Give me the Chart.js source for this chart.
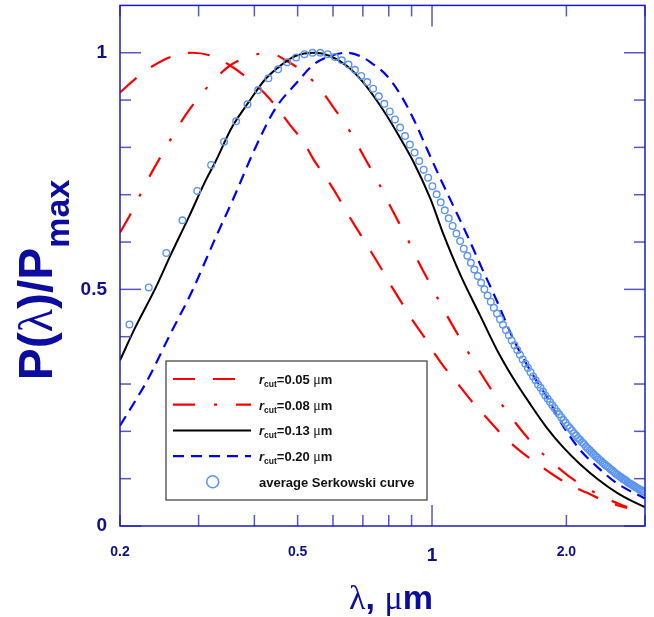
<!DOCTYPE html>
<html>
<head>
<meta charset="utf-8" />
<title>P(λ)/Pmax</title>
<script src="https://cdn.jsdelivr.net/npm/chart.js@4.4.1/dist/chart.umd.min.js"></script>
<style>
    body {
        margin: 0;
        background: #ffffff;
    }
    #wrap {
        width: 654px;
        height: 617px;
    }
</style>
</head>
<body>
<div id="wrap"><canvas id="chart" width="654" height="617"></canvas></div>
<script>
    // r_cut = 0.05 um (red long dash)
    const r005Lambda = [0.200, 0.218, 0.238, 0.263, 0.290, 0.324, 0.353, 0.388, 0.419, 0.453, 0.481, 0.515, 0.543, 0.576, 0.612, 0.645, 0.684, 0.721, 0.763, 0.806, 0.852, 0.902, 0.961, 1.017, 1.084, 1.157, 1.239, 1.339, 1.435, 1.564, 1.690, 1.842, 2.024, 2.226, 2.468, 2.736];
    const r005P = [0.916, 0.947, 0.973, 0.993, 1.000, 0.992, 0.973, 0.945, 0.917, 0.880, 0.847, 0.812, 0.774, 0.739, 0.700, 0.662, 0.623, 0.588, 0.550, 0.511, 0.474, 0.436, 0.399, 0.362, 0.326, 0.294, 0.259, 0.224, 0.193, 0.161, 0.137, 0.112, 0.088, 0.070, 0.051, 0.038];

    // r_cut = 0.08 um (red dash-dot)
    const r008Lambda = [0.200, 0.212, 0.222, 0.234, 0.248, 0.262, 0.279, 0.297, 0.320, 0.353, 0.388, 0.429, 0.474, 0.520, 0.564, 0.604, 0.645, 0.681, 0.721, 0.759, 0.799, 0.843, 0.886, 0.933, 0.982, 1.034, 1.093, 1.157, 1.223, 1.294, 1.381, 1.472, 1.577, 1.704, 1.842, 2.013, 2.226, 2.446, 2.736];
    const r008P = [0.620, 0.662, 0.700, 0.742, 0.784, 0.823, 0.865, 0.900, 0.936, 0.973, 0.991, 1.000, 0.982, 0.956, 0.921, 0.882, 0.844, 0.805, 0.763, 0.725, 0.683, 0.641, 0.602, 0.558, 0.518, 0.478, 0.436, 0.396, 0.357, 0.319, 0.278, 0.242, 0.205, 0.168, 0.138, 0.107, 0.080, 0.059, 0.040];

    // r_cut = 0.13 um (black solid)
    const r013Lambda = [0.200, 0.216, 0.240, 0.261, 0.285, 0.310, 0.327, 0.356, 0.388, 0.423, 0.461, 0.494, 0.545, 0.591, 0.645, 0.702, 0.766, 0.834, 0.909, 0.991, 1.062, 1.157, 1.283, 1.398, 1.523, 1.661, 1.810, 1.973, 2.150, 2.344, 2.598, 2.800, 3.000];
    const r013P = [0.350, 0.418, 0.502, 0.577, 0.652, 0.727, 0.769, 0.842, 0.895, 0.944, 0.975, 0.993, 1.000, 0.993, 0.972, 0.937, 0.888, 0.832, 0.769, 0.692, 0.615, 0.531, 0.444, 0.372, 0.311, 0.257, 0.207, 0.165, 0.130, 0.100, 0.070, 0.053, 0.040];

    // r_cut = 0.20 um (blue dashed)
    const r020Lambda = [0.200, 0.230, 0.260, 0.290, 0.327, 0.359, 0.401, 0.445, 0.498, 0.543, 0.591, 0.645, 0.690, 0.740, 0.793, 0.849, 0.909, 0.974, 1.044, 1.118, 1.198, 1.283, 1.398, 1.523, 1.661, 1.810, 1.973, 2.150, 2.344, 2.598, 3.000];
    const r020P = [0.212, 0.307, 0.408, 0.496, 0.608, 0.692, 0.797, 0.881, 0.937, 0.975, 0.993, 1.000, 0.993, 0.975, 0.951, 0.912, 0.860, 0.797, 0.734, 0.675, 0.615, 0.552, 0.475, 0.394, 0.328, 0.272, 0.209, 0.160, 0.125, 0.090, 0.058];

    // average Serkowski curve (open circles)
    const serkLambda = [0.210, 0.232, 0.254, 0.276, 0.298, 0.320, 0.342, 0.364, 0.386, 0.408, 0.430, 0.452, 0.474, 0.496, 0.518, 0.540, 0.562, 0.584, 0.606, 0.628,
        0.650, 0.672, 0.694, 0.716, 0.738, 0.760, 0.782, 0.804, 0.826, 0.848, 0.870, 0.892, 0.914, 0.936, 0.958, 0.980, 1.002, 1.024, 1.046, 1.068,
        1.090, 1.112, 1.134, 1.156, 1.178, 1.200, 1.222, 1.244, 1.266, 1.288, 1.310, 1.332, 1.354, 1.376, 1.398, 1.420, 1.442, 1.464, 1.486, 1.508,
        1.530, 1.552, 1.574, 1.596, 1.618, 1.640, 1.662, 1.684, 1.706, 1.728, 1.750, 1.772, 1.794, 1.816, 1.838, 1.860, 1.882, 1.904, 1.926, 1.948,
        1.970, 1.992, 2.014, 2.036, 2.058, 2.080, 2.102, 2.124, 2.146, 2.168, 2.190, 2.212, 2.234, 2.256, 2.278, 2.300, 2.322, 2.344, 2.366, 2.388,
        2.410, 2.432, 2.454, 2.476, 2.498, 2.520, 2.542, 2.564, 2.586, 2.608, 2.630, 2.652, 2.674, 2.696, 2.718, 2.740, 2.762, 2.784, 2.806, 2.828,
        2.850, 2.872, 2.894, 2.916, 2.938, 2.960, 2.982];
    const serkP = [0.426, 0.504, 0.577, 0.646, 0.708, 0.763, 0.812, 0.855, 0.891, 0.921, 0.946, 0.965, 0.980, 0.990, 0.997, 1.000, 1.000, 0.997, 0.991, 0.984,
        0.975, 0.964, 0.951, 0.938, 0.924, 0.908, 0.892, 0.876, 0.859, 0.842, 0.824, 0.806, 0.789, 0.771, 0.753, 0.736, 0.718, 0.701, 0.684, 0.667,
        0.650, 0.634, 0.618, 0.602, 0.586, 0.571, 0.556, 0.542, 0.528, 0.514, 0.500, 0.487, 0.474, 0.461, 0.449, 0.437, 0.425, 0.414, 0.403, 0.392,
        0.382, 0.372, 0.362, 0.352, 0.343, 0.334, 0.325, 0.316, 0.308, 0.299, 0.292, 0.284, 0.276, 0.269, 0.262, 0.255, 0.249, 0.242, 0.236, 0.230,
        0.224, 0.218, 0.212, 0.207, 0.202, 0.196, 0.191, 0.186, 0.182, 0.177, 0.173, 0.168, 0.164, 0.160, 0.156, 0.152, 0.148, 0.145, 0.141, 0.138,
        0.134, 0.131, 0.128, 0.125, 0.122, 0.119, 0.116, 0.113, 0.110, 0.108, 0.105, 0.103, 0.100, 0.098, 0.096, 0.093, 0.091, 0.089, 0.087, 0.085,
        0.083, 0.081, 0.079, 0.077, 0.076, 0.074, 0.072];

    // axes
    const xTickValues = [0.2, 0.3, 0.4, 0.5, 0.6, 0.7, 0.8, 0.9, 1, 2, 3];
    const xLongTicks = [1];
    const xTickLabels = ['0.2', '0.5', '1', '2.0'];
    const xTickLabelValues = [0.2, 0.5, 1, 2];
    const yTickValues = [0, 0.1, 0.2, 0.3, 0.4, 0.5, 0.6, 0.7, 0.8, 0.9, 1.0];
    const yLongTicks = [0, 0.5, 1.0];
    const yTickLabels = ['0', '0.5', '1'];
    const yTickLabelValues = [0, 0.5, 1];

    const legendCuts = ['0.05', '0.08', '0.13', '0.20'];
    const legendSerk = 'average Serkowski curve';

    const SANS = '"Liberation Sans", Arial, sans-serif';
    const SERIF = '"Liberation Serif", "Times New Roman", serif';
    const navy = '#10108c';

    function pts(xs, ys) {
        return xs.map((x, i) => ({ x: x, y: ys[i] }));
    }

    // draws a row of text pieces with different fonts, returns the width
    function drawRuns(ctx, x, y, runs, measureOnly) {
        let cx = x;
        runs.forEach(r => {
            ctx.font = r.font;
            if (!measureOnly) ctx.fillText(r.t, cx, y + (r.dy || 0));
            cx += ctx.measureText(r.t).width;
        });
        return cx - x;
    }

    function line(ctx, x1, y1, x2, y2) {
        ctx.beginPath();
        ctx.moveTo(x1, y1);
        ctx.lineTo(x2, y2);
        ctx.stroke();
    }

    const decorPlugin = {
        id: 'decor',
        afterDatasetsDraw(chart) {
            const ctx = chart.ctx;
            const a = chart.chartArea;
            const xs = chart.scales.x;
            const ys = chart.scales.y;
            ctx.save();

            // inner ticks on all four sides
            ctx.strokeStyle = '#5656c8';
            ctx.lineWidth = 1.5;
            yTickValues.forEach(v => {
                const py = ys.getPixelForValue(v);
                const len = yLongTicks.includes(v) ? 21 : 11;
                line(ctx, a.left, py, a.left + len, py);
                line(ctx, a.right, py, a.right - len, py);
            });
            xTickValues.forEach(v => {
                const px = xs.getPixelForValue(v);
                const len = xLongTicks.includes(v) ? 21 : 11;
                line(ctx, px, a.bottom, px, a.bottom - len);
                line(ctx, px, a.top, px, a.top + len);
            });

            // frame
            ctx.strokeStyle = '#1c1cc0';
            ctx.lineWidth = 1.5;
            ctx.strokeRect(a.left, a.top, a.right - a.left, a.bottom - a.top);

            // tick labels
            ctx.fillStyle = navy;
            ctx.textAlign = 'right';
            ctx.textBaseline = 'middle';
            ctx.font = 'bold 19px ' + SANS;
            yTickLabelValues.forEach((v, i) => {
                ctx.fillText(yTickLabels[i], a.left - 13, ys.getPixelForValue(v));
            });
            ctx.textAlign = 'center';
            xTickLabelValues.forEach((v, i) => {
                const big = v === 1;
                ctx.font = 'bold ' + (big ? 19 : 14) + 'px ' + SANS;
                ctx.fillText(xTickLabels[i], xs.getPixelForValue(v), a.bottom + (big ? 30 : 26));
            });

            // x title
            ctx.textAlign = 'left';
            ctx.textBaseline = 'alphabetic';
            ctx.fillStyle = '#0c0ca0';
            const xRuns = [
                { t: 'λ', font: '34px ' + SERIF },
                { t: ', ', font: 'bold 34px ' + SANS },
                { t: 'μ', font: '34px ' + SERIF },
                { t: 'm', font: 'bold 34px ' + SANS }
            ];
            const xw = drawRuns(ctx, 0, 0, xRuns, true);
            drawRuns(ctx, 391 - xw / 2, 609, xRuns);

            // y title, rotated
            const yRuns = [
                { t: 'P(', font: 'bold 48px ' + SANS },
                { t: 'λ', font: '48px ' + SERIF },
                { t: ')/P', font: 'bold 48px ' + SANS },
                { t: 'max', font: 'bold 34px ' + SANS, dy: 17 }
            ];
            const yw = drawRuns(ctx, 0, 0, yRuns, true);
            ctx.translate(52, 280);
            ctx.rotate(-Math.PI / 2);
            drawRuns(ctx, -yw / 2, 0, yRuns);
            ctx.restore();

            // legend box
            ctx.save();
            const L = { left: 166, top: 361, right: 427, bottom: 500 };
            ctx.fillStyle = '#ffffff';
            ctx.fillRect(L.left, L.top, L.right - L.left, L.bottom - L.top);
            ctx.strokeStyle = '#3a3a3a';
            ctx.lineWidth = 1.2;
            ctx.strokeRect(L.left, L.top, L.right - L.left, L.bottom - L.top);

            const ds = chart.data.datasets;
            const order = [4, 3, 2, 1, 0];
            ctx.fillStyle = '#111111';
            ctx.textAlign = 'left';
            ctx.textBaseline = 'alphabetic';
            order.forEach((di, row) => {
                const d = ds[di];
                const cy = 379 + row * 25.7;
                if (d.showLine) {
                    ctx.setLineDash(d.borderDash || []);
                    ctx.strokeStyle = d.borderColor;
                    ctx.lineWidth = d.borderWidth;
                    line(ctx, 173, cy, 251, cy);
                    ctx.setLineDash([]);
                    drawRuns(ctx, 259, cy + 5, [
                        { t: 'r', font: 'italic bold 13px ' + SANS },
                        { t: 'cut', font: 'bold 8.5px ' + SANS, dy: 3 },
                        { t: '=' + legendCuts[row] + ' ', font: 'bold 13px ' + SANS },
                        { t: 'μ', font: '14px ' + SERIF },
                        { t: 'm', font: 'bold 13px ' + SANS }
                    ]);
                } else {
                    ctx.strokeStyle = d.borderColor;
                    ctx.lineWidth = 1.6;
                    ctx.beginPath();
                    ctx.arc(212.7, cy, 6, 0, Math.PI * 2);
                    ctx.stroke();
                    ctx.font = 'bold 13px ' + SANS;
                    ctx.fillText(legendSerk, 259, cy + 5);
                }
            });
            ctx.restore();
        }
    };

    const chart = new Chart(document.getElementById('chart'), {
        type: 'scatter',
        data: {
            datasets: [{
                label: 'average Serkowski curve',
                data: pts(serkLambda, serkP),
                showLine: false,
                pointStyle: 'circle',
                pointRadius: 3.3,
                pointBorderWidth: 1.4,
                borderColor: '#5c96f0',
                pointBorderColor: '#5c96f0',
                backgroundColor: 'rgba(0,0,0,0)',
                pointBackgroundColor: 'rgba(0,0,0,0)'
            }, {
                label: 'r_cut=0.20',
                data: pts(r020Lambda, r020P),
                showLine: true,
                borderColor: '#0000ff',
                borderWidth: 2.2,
                borderDash: [11, 7],
                pointRadius: 0
            }, {
                label: 'r_cut=0.13',
                data: pts(r013Lambda, r013P),
                showLine: true,
                borderColor: '#000000',
                borderWidth: 2,
                pointRadius: 0
            }, {
                label: 'r_cut=0.08',
                data: pts(r008Lambda, r008P),
                showLine: true,
                borderColor: '#ff0000',
                borderWidth: 2.2,
                borderDash: [22, 19, 3, 19],
                pointRadius: 0
            }, {
                label: 'r_cut=0.05',
                data: pts(r005Lambda, r005P),
                showLine: true,
                borderColor: '#ff0000',
                borderWidth: 2.2,
                borderDash: [22, 18],
                pointRadius: 0
            }]
        },
        options: {
            responsive: false,
            animation: false,
            devicePixelRatio: 1,
            layout: { padding: { left: 120, right: 9, top: 2, bottom: 91 } },
            elements: { line: { cubicInterpolationMode: 'monotone' } },
            scales: {
                x: { type: 'logarithmic', min: 0.2, max: 3.0, display: false },
                y: { type: 'linear', min: 0, max: 1.1, display: false }
            },
            plugins: {
                legend: { display: false },
                tooltip: { enabled: false }
            }
        },
        plugins: [decorPlugin]
    });
</script>
</body>
</html>
